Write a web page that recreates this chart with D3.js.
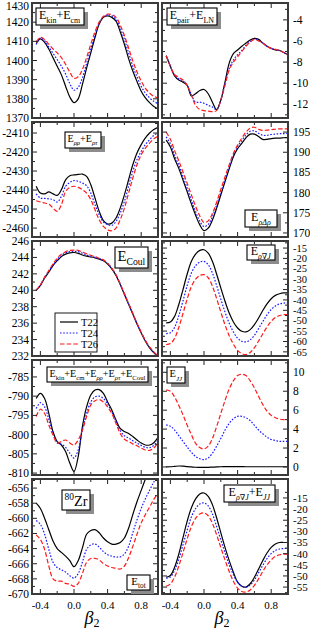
<!DOCTYPE html>
<html>
<head>
<meta charset="utf-8">
<script src="https://cdn.jsdelivr.net/npm/d3@7"></script>
<style>
body { margin: 0; background: #fff; }
svg { display: block; }
text { font-family: "Liberation Serif", "DejaVu Serif", serif; fill: #000; }
</style>
</head>
<body>
<div id="chart"></div>
<script>
// deformation grid shared by every panel
const beta = [-0.45,-0.4,-0.35,-0.3,-0.25,-0.2,-0.15,-0.1,-0.05,0,0.05,0.1,0.15,0.2,0.25,0.3,0.35,0.4,0.45,0.5,0.55,0.6,0.65,0.7,0.75,0.8,0.85,0.9,0.95,1.0];
const seriesNames = ["T22", "T24", "T26"];
const xTicks = [-0.4, 0.0, 0.4, 0.8];

// E_kin + E_cm
const ekinT22 = [1408.8,1411.3,1409.5,1406,1401.5,1397,1392.5,1386.6,1381,1378,1380,1387.5,1396,1404,1412,1419,1422.5,1423.3,1422.5,1420.5,1415,1408.5,1401,1394.5,1389,1384,1380.5,1378,1376,1374.8];
const ekinT24 = [1408.3,1411.7,1410.3,1407,1403.8,1400.5,1397,1393,1388,1384.5,1386,1391,1398.5,1406,1413.5,1419.5,1422.8,1423.8,1423.3,1421.5,1417,1411,1404,1397,1391.5,1386.5,1383,1380.5,1378.7,1377.5];
const ekinT26 = [1409.7,1412,1411,1408.5,1406,1404,1401.5,1398,1394,1390.7,1391.5,1395.4,1401.5,1408.5,1415,1420,1423,1424.2,1424,1422.5,1418.5,1413,1406.5,1399.8,1394,1389.3,1385.5,1383,1381.3,1380.5];
const ekinTicks = [1370,1380,1390,1400,1410,1420,1430];

// E_pair + E_LN
const pairT22 = [-7.4,-8.4,-9.3,-9.7,-9.9,-10.2,-11.2,-11.0,-10.7,-10.6,-11.0,-11.8,-12.5,-11.6,-9.9,-8.1,-7.2,-6.85,-6.5,-6.2,-5.9,-5.75,-5.85,-6.2,-6.5,-6.7,-6.85,-6.9,-7.1,-7.3];
const pairT24 = [-7.4,-8.4,-9.25,-9.6,-9.8,-10.2,-11.1,-11.8,-11.8,-11.9,-12.1,-12.25,-12.5,-11.6,-10.0,-8.6,-7.8,-7.3,-6.9,-6.4,-6.05,-5.8,-5.95,-6.2,-6.5,-6.7,-6.8,-6.9,-7.1,-7.3];
const pairT26 = [-7.4,-8.4,-9.2,-9.45,-9.7,-10.2,-11.1,-12.1,-12.5,-12.6,-12.65,-12.7,-12.6,-11.6,-10.2,-8.75,-8.0,-7.5,-7.0,-6.5,-6.1,-5.85,-6.0,-6.2,-6.5,-6.7,-6.8,-6.9,-7.1,-7.3];
const pairTicks = [-12,-10,-8,-6,-4];

// E_rhorho + E_rhotau
const rhoT22 = [-2438,-2441.6,-2442,-2441,-2442,-2442.8,-2439.8,-2434.6,-2432.5,-2432,-2431.8,-2431.6,-2432.8,-2437.2,-2444.2,-2451.2,-2456.1,-2457.9,-2457.4,-2454.7,-2449.5,-2442.5,-2434.6,-2426.7,-2420.5,-2416.1,-2412.6,-2410,-2408.2,-2407];
const rhoT24 = [-2442,-2444.2,-2444.4,-2444.6,-2445,-2446.3,-2443.3,-2438,-2436,-2435,-2435.4,-2436.3,-2437.7,-2441.6,-2447.7,-2453,-2456.8,-2458.2,-2458.6,-2456.5,-2452.1,-2446,-2438,-2430.2,-2424,-2419.6,-2416.1,-2413.5,-2411.2,-2410];
const rhoT26 = [-2445.6,-2446.3,-2446.8,-2447.4,-2449.5,-2451.2,-2447.7,-2440.7,-2438.6,-2438,-2438.6,-2439.8,-2441.6,-2445.1,-2450.4,-2455.6,-2459.1,-2460.9,-2461.4,-2460,-2455.6,-2449.5,-2441.6,-2433.7,-2426.7,-2421.4,-2417.9,-2415.3,-2413,-2411.8];
const rhoTicks = [-2460,-2450,-2440,-2430,-2420,-2410];

// E_rho Delta rho
const lapT22 = [193,191.3,188.4,186,183.1,180.2,177.2,174.4,172,170.6,171.2,173.2,176.1,179.4,182.7,185.9,188.9,190.9,192.2,193.6,194.5,194.5,193.9,193.2,193.2,193.4,193.5,193.5,193.6,193.6];
const lapT24 = [193.8,192.1,189.2,186.8,184,181.1,178.1,175.3,172.9,171.6,172.1,174,176.9,180.1,183.3,186.4,189.3,191.4,192.9,194.3,195.2,195.3,194.7,194.2,194.2,194.4,194.5,194.6,194.6,194.7];
const lapT26 = [195,193.2,190.4,187.9,185.1,182.3,179.4,176.6,174.2,172.6,173,174.8,177.6,180.8,183.9,186.9,189.7,191.8,193.5,195,196,196.2,195.7,195.4,195.5,195.6,195.7,195.8,195.8,195.8];
const lapTicks = [170,175,180,185,190,195];

// E_Coul
const coulT22 = [240,240.6,241.5,242.2,243,243.6,244.1,244.4,244.55,244.6,244.5,244.3,244.15,244.05,243.95,243.8,243.6,243.2,242.6,241.8,240.7,239.5,238.3,237.1,235.9,234.8,233.8,233,232.4,231.9];
const coulT24 = [240,240.6,241.55,242.3,243.1,243.75,244.25,244.55,244.7,244.75,244.7,244.5,244.3,244.15,244.0,243.85,243.65,243.25,242.65,241.85,240.75,239.55,238.35,237.15,235.95,234.85,233.85,233.05,232.45,231.95];
const coulT26 = [240,240.65,241.6,242.4,243.2,243.9,244.4,244.7,244.85,244.9,244.85,244.65,244.45,244.25,244.1,243.9,243.7,243.3,242.7,241.9,240.8,239.6,238.4,237.2,236.0,234.9,233.9,233.1,232.5,232.0];
const coulTicks = [232,234,236,238,240,242,244,246];

// E_rho nabla J
const sojT22 = [-51,-50.6,-47.9,-42.2,-35,-27.5,-21.4,-17.9,-16.1,-15.8,-17.4,-21.4,-27.5,-34.2,-40.6,-46.3,-50.6,-53.5,-55.1,-55.4,-54.3,-51.9,-48.7,-45.1,-41.9,-39.4,-37.8,-37,-36.6,-36.6];
const sojT24 = [-56.2,-55.8,-53.2,-47.6,-40.5,-33,-27,-23.5,-21.7,-21.4,-23,-27,-33,-39.6,-45.8,-51.2,-55.4,-58.4,-59.9,-60.2,-59.2,-57,-53.8,-50.4,-47.2,-44.6,-42.9,-41.9,-41.5,-41.4];
const sojT26 = [-61.5,-61,-58.5,-53.2,-46.5,-39.5,-33.5,-30,-28.2,-27.8,-29.3,-33.3,-39.3,-45.8,-52,-57.2,-61.3,-64.3,-65.9,-66.3,-65.3,-63,-59.8,-56.3,-53,-50.3,-48.5,-47.5,-47.1,-47];
const sojTicks = [-65,-60,-55,-50,-45,-40,-35,-30,-25,-20,-15];

// E_kin + E_cm + E_rhorho + E_rhotau + E_Coul
const sumT22 = [-790.6,-789.3,-790.6,-794.5,-799.2,-801.8,-802.7,-804.4,-807.4,-809.6,-805.7,-797.9,-792.8,-789.7,-788.4,-788.3,-789.3,-791.5,-793.6,-796.2,-798.4,-799.2,-799.7,-800.5,-801.4,-802.2,-802.7,-802.7,-802.1,-800.7];
const sumT24 = [-793.2,-791.7,-792.8,-796,-799.7,-802.1,-802.5,-803.3,-804.8,-806.1,-804,-798.8,-794.5,-791.5,-790.2,-790,-790.6,-792.1,-794.1,-796.6,-799,-800.3,-800.9,-801.6,-802.2,-802.8,-803.3,-803.4,-802.8,-801.4];
const sumT26 = [-795.3,-793.4,-794.5,-797.5,-800.1,-802.2,-801.8,-801.4,-802.2,-802.7,-801.4,-798.8,-795.3,-792.3,-791.2,-790.9,-791.5,-792.8,-794.5,-797.1,-799.7,-801.2,-801.8,-802.4,-802.9,-803.5,-804,-804.1,-803.5,-802.1];
const sumTicks = [-810,-805,-800,-795,-790,-785];

// E_JJ
const jjT22 = [0,0.02,0.06,0.1,0.08,0.03,0,-0.03,-0.05,-0.05,-0.04,-0.02,0,0.02,0.03,0.04,0.04,0.04,0.03,0.02,0.02,0.02,0.02,0.02,0.02,0.02,0.02,0.02,0.02,0.02];
const jjT24 = [4.45,4.3,3.9,3.3,2.7,2.1,1.55,1.1,0.87,0.77,0.95,1.45,2.2,3.0,3.9,4.6,5.1,5.35,5.35,5.2,4.9,4.4,3.9,3.5,3.15,2.9,2.8,2.7,2.7,2.7];
const jjT26 = [8.15,8.0,7.4,6.5,5.5,4.4,3.4,2.5,2.05,1.9,2.2,3.0,4.25,5.65,7.0,8.25,9.1,9.65,9.8,9.65,9.1,8.35,7.45,6.6,5.9,5.45,5.2,5.05,5.0,5.0];
const jjTicks = [0,2,4,6,8,10];

// E_tot
const totT22 = [-658,-658.7,-660,-661.5,-663,-664,-664.5,-665,-665.6,-666.4,-665.6,-663.9,-662.1,-661.6,-661.5,-661.9,-662.6,-663.1,-663.4,-663.4,-663.2,-662.6,-661.3,-659.5,-657.8,-656.3,-654.8,-653.3,-651.8,-650.3];
const totT24 = [-660.3,-660.8,-662.1,-664.1,-665.8,-666.5,-666.8,-667.1,-667.6,-667.9,-667.3,-665.8,-664.1,-663.5,-663.4,-663.8,-664.4,-664.8,-665,-665.1,-665.1,-664.7,-663.7,-661.9,-660.2,-658.7,-657.4,-656.3,-655.2,-654.4];
const totT26 = [-662.2,-662.8,-664.1,-666.3,-668,-668.3,-668.3,-668.6,-668.7,-669,-668.6,-667.3,-665.8,-665.3,-665.3,-665.5,-666,-666.3,-666.5,-666.6,-666.7,-666.3,-665.2,-663.7,-662.1,-660.6,-659.5,-658.5,-657.5,-656.7];
const totTicks = [-670,-668,-666,-664,-662,-660,-658,-656];

// E_rho nabla J + E_JJ
const sojjjT22 = [-50.6,-49.8,-46.1,-40.2,-32.8,-25.4,-19.4,-15.4,-13.2,-12.8,-14.3,-18,-23.9,-30.6,-37.2,-43.1,-48.3,-52.8,-54.6,-55,-53.5,-50.6,-46.9,-43.1,-39.7,-37.2,-35.7,-35,-35,-35];
const sojjjT24 = [-51,-50.5,-47.5,-42.5,-36,-29.5,-23.5,-19.8,-17.7,-17.2,-18.6,-22.2,-27.8,-33.8,-39.6,-45,-49.5,-52.8,-54.6,-55,-54,-51.8,-48.6,-45.2,-42.2,-40,-38.6,-37.9,-37.7,-37.7];
const sojjjT26 = [-54.6,-53.6,-50.5,-45.5,-39.5,-33.3,-27.8,-24.2,-22.2,-21.7,-23,-26.4,-31.5,-37.2,-42.8,-48,-52.4,-55.5,-57,-57.2,-56.3,-54.2,-51.3,-48,-45,-42.8,-41.2,-40.5,-40.2,-40.2];
const sojjjTicks = [-55,-50,-45,-40,-35,-30,-25,-20,-15];

const W = 310, H = 632;
const colX = [32, 162], panelW = 126, panelH = 115;
const rowY = i => 3 + i * 119;

const styles = [
    { color: "#000000", dash: null, width: 1.2 },
    { color: "#1a1aff", dash: "1.6,1.6", width: 1.2 },
    { color: "#ff1a1a", dash: "4.5,2.2", width: 1.2 }
];

// labels: segments with optional sub/sup/italic
const panels = [
    { col: 0, row: 0, series: [ekinT22, ekinT24, ekinT26], domain: [1370, 1430], ticks: ekinTicks,
      labels: [{ box: [36, 8, 48, 17], size: 12, segs: [{t: "E"}, {t: "kin", sub: 1}, {t: "+E"}, {t: "cm", sub: 1}] }] },
    { col: 1, row: 0, series: [pairT22, pairT24, pairT26], domain: [-13.3, -2.4], ticks: pairTicks,
      labels: [{ box: [167, 8, 50, 17], size: 12, segs: [{t: "E"}, {t: "pair", sub: 1}, {t: "+E"}, {t: "LN", sub: 1}] }] },
    { col: 0, row: 1, series: [rhoT22, rhoT24, rhoT26], domain: [-2464.7, -2404.2], ticks: rhoTicks,
      labels: [{ box: [65, 132, 36, 16], size: 12, segs: [{t: "E"}, {t: "ρρ", sub: 1, it: 1}, {t: "+E"}, {t: "ρτ", sub: 1, it: 1}] }] },
    { col: 1, row: 1, series: [lapT22, lapT24, lapT26], domain: [169, 197.5], ticks: lapTicks,
      labels: [{ box: [245, 210, 32, 17], size: 12, segs: [{t: "E"}, {t: "ρΔρ", sub: 1, it: 1}] }] },
    { col: 0, row: 2, series: [coulT22, coulT24, coulT26], domain: [232, 246], ticks: coulTicks, legend: true,
      labels: [{ box: [115, 247, 33, 21], size: 15, segs: [{t: "E"}, {t: "Coul", sub: 1}] }] },
    { col: 1, row: 2, series: [sojT22, sojT24, sojT26], domain: [-67, -11.6], ticks: sojTicks, tickFont: 10.5,
      labels: [{ box: [247, 245, 28, 15], size: 12, segs: [{t: "E"}, {t: "ρ∇J", sub: 1, it: 1}] }] },
    { col: 0, row: 3, series: [sumT22, sumT24, sumT26], domain: [-810.5, -780.6], ticks: sumTicks,
      labels: [{ box: [47, 367, 101, 15], size: 11, segs: [{t: "E"}, {t: "kin", sub: 1}, {t: "+E"}, {t: "cm", sub: 1}, {t: "+E"}, {t: "ρρ", sub: 1, it: 1}, {t: "+E"}, {t: "ρτ", sub: 1, it: 1}, {t: "+E"}, {t: "Coul", sub: 1}] }] },
    { col: 1, row: 3, series: [jjT22, jjT24, jjT26], domain: [-0.85, 11.3], ticks: jjTicks,
      labels: [{ box: [167, 367, 18, 16], size: 12, segs: [{t: "E"}, {t: "JJ", sub: 1, it: 1}] }] },
    { col: 0, row: 4, series: [totT22, totT24, totT26], domain: [-670, -654.8], ticks: totTicks,
      labels: [{ box: [62, 490, 28, 20], size: 15, segs: [{t: "80", sup: 1}, {t: "Zr"}] },
               { box: [127, 575, 23, 15], size: 11, segs: [{t: "E"}, {t: "tot", sub: 1}] }] },
    { col: 1, row: 4, series: [sojjjT22, sojjjT24, sojjjT26], domain: [-58.1, -6.5], ticks: sojjjTicks, tickFont: 11,
      labels: [{ box: [224, 485, 51, 17], size: 12, segs: [{t: "E"}, {t: "ρ∇J", sub: 1, it: 1}, {t: "+E"}, {t: "JJ", sub: 1, it: 1}] }] }
];

const svg = d3.select("#chart").append("svg")
    .attr("width", W)
    .attr("height", H);

function addLabel(g, lab) {
    const [bx, by, bw, bh] = lab.box;
    g.append("rect").attr("x", bx + 4).attr("y", by + 4).attr("width", bw).attr("height", bh)
        .attr("fill", "#8c8c8c");
    g.append("rect").attr("x", bx).attr("y", by).attr("width", bw).attr("height", bh)
        .attr("fill", "#fff").attr("stroke", "#000").attr("stroke-width", 1.1);

    const size = lab.size;
    const t = g.append("text").attr("font-size", size);
    let shift = 0;
    lab.segs.forEach(s => {
        const want = s.sub ? size * 0.3 : s.sup ? -size * 0.4 : 0;
        const sp = t.append("tspan").text(s.t).attr("dy", want - shift);
        shift = want;
        if (s.sub || s.sup) sp.attr("font-size", size * 0.66);
        if (s.it) sp.attr("font-style", "italic");
    });
    const bb = t.node().getBBox();
    const k = Math.min(1, (bw - 5) / bb.width);
    const tx = bx + (bw - bb.width * k) / 2 - bb.x * k;
    const ty = by + (bh - bb.height * k) / 2 - bb.y * k;
    t.attr("transform", "translate(" + tx + "," + ty + ") scale(" + k + ")");
}

panels.forEach((p, pi) => {
    const x0 = colX[p.col], y0 = rowY(p.row);
    const x = d3.scaleLinear().domain([-0.5, 1.0]).range([x0, x0 + panelW]);
    const y = d3.scaleLinear().domain(p.domain).range([y0 + panelH, y0]);
    const g = svg.append("g");

    g.append("clipPath").attr("id", "clip" + pi)
        .append("rect").attr("x", x0).attr("y", y0).attr("width", panelW).attr("height", panelH);

    const line = d3.line()
        .x((d, i) => x(beta[i]))
        .y(d => y(d))
        .curve(d3.curveCatmullRom.alpha(0.5));

    const lines = g.append("g").attr("clip-path", "url(#clip" + pi + ")");
    p.series.forEach((s, si) => {
        const st = styles[si];
        lines.append("path")
            .datum(s)
            .attr("d", line)
            .attr("fill", "none")
            .attr("stroke", st.color)
            .attr("stroke-width", st.width)
            .attr("stroke-dasharray", st.dash);
    });

    // inward ticks on all four sides
    const tk = g.append("g").attr("stroke", "#222").attr("stroke-width", 1);
    const xt = d3.range(-0.4, 1.001, 0.2).map(v => +v.toFixed(1));
    xt.forEach(v => {
        const len = xTicks.includes(v) ? 5 : 3;
        tk.append("line").attr("x1", x(v)).attr("x2", x(v)).attr("y1", y0 + panelH).attr("y2", y0 + panelH - len);
        tk.append("line").attr("x1", x(v)).attr("x2", x(v)).attr("y1", y0).attr("y2", y0 + len);
    });
    const step = p.ticks[1] - p.ticks[0];
    const minor = p.ticks.map(v => v + step / 2).concat([p.ticks[0] - step / 2])
        .filter(v => v > p.domain[0] && v < p.domain[1]);
    p.ticks.forEach(v => {
        tk.append("line").attr("x1", x0).attr("x2", x0 + 5).attr("y1", y(v)).attr("y2", y(v));
        tk.append("line").attr("x1", x0 + panelW).attr("x2", x0 + panelW - 5).attr("y1", y(v)).attr("y2", y(v));
    });
    minor.forEach(v => {
        tk.append("line").attr("x1", x0).attr("x2", x0 + 3).attr("y1", y(v)).attr("y2", y(v));
        tk.append("line").attr("x1", x0 + panelW).attr("x2", x0 + panelW - 3).attr("y1", y(v)).attr("y2", y(v));
    });

    // y tick labels: left column on the left, right column on the right
    p.ticks.forEach(v => {
        g.append("text")
            .attr("x", p.col === 0 ? x0 - 3 : x0 + panelW + 5)
            .attr("y", Math.max(y(v), 6))
            .attr("dy", "0.35em")
            .attr("font-size", p.tickFont || 11.5)
            .attr("text-anchor", p.col === 0 ? "end" : "start")
            .text(String(v));
    });

    // frame
    g.append("rect")
        .attr("x", x0).attr("y", y0).attr("width", panelW).attr("height", panelH)
        .attr("fill", "none").attr("stroke", "#3a3a3a").attr("stroke-width", 2);

    if (p.row === 4) {
        xTicks.forEach(v => {
            g.append("text")
                .attr("x", x(v)).attr("y", y0 + panelH + 15)
                .attr("font-size", 11)
                .attr("text-anchor", "middle")
                .text(v.toFixed(1));
        });
        const bl = g.append("text")
            .attr("x", x0 + panelW / 2 - 3).attr("y", 624)
            .attr("text-anchor", "middle")
            .attr("font-size", 18);
        bl.append("tspan").attr("font-style", "italic").text("β");
        bl.append("tspan").attr("font-size", 12).attr("dy", 3).text("2");
    }

    if (p.legend) {
        const lg = g.append("g");
        lg.append("rect").attr("x", 55).attr("y", 313).attr("width", 42).attr("height", 39)
            .attr("fill", "#fff").attr("stroke", "#000").attr("stroke-width", 0.9);
        seriesNames.forEach((n, i) => {
            const ly = 322 + i * 11;
            lg.append("line").attr("x1", 60).attr("x2", 78).attr("y1", ly).attr("y2", ly)
                .attr("stroke", styles[i].color).attr("stroke-width", styles[i].width)
                .attr("stroke-dasharray", styles[i].dash);
            lg.append("text").attr("x", 81).attr("y", ly).attr("dy", "0.35em")
                .attr("font-size", 10.5).text(n);
        });
    }

    p.labels.forEach(l => addLabel(g, l));
});
</script>
</body>
</html>
